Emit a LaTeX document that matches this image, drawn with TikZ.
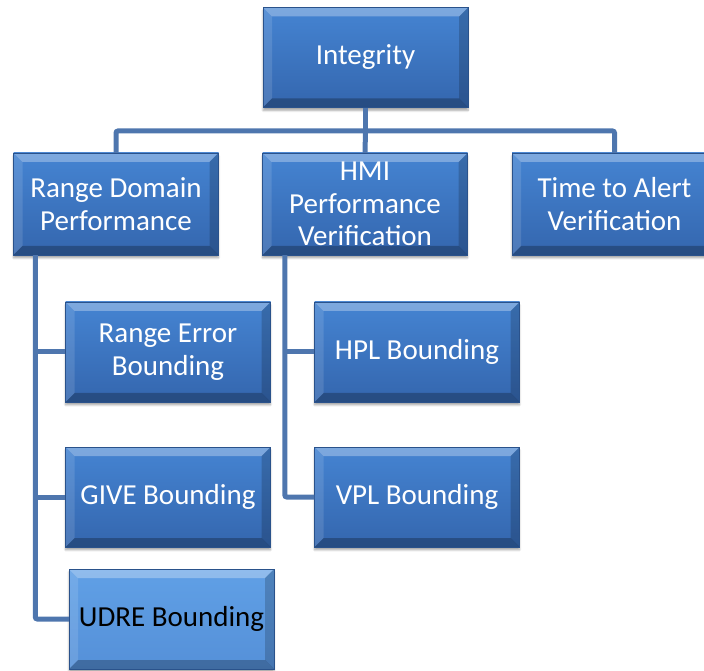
\documentclass[tikz,border=0pt]{standalone}
\usepackage{fontspec}
\setmainfont{Carlito}
\usetikzlibrary{shadows.blur}

\definecolor{boxtop}{HTML}{4584D2}
\definecolor{boxbot}{HTML}{3466AE}
\definecolor{seltop}{HTML}{60A0E6}
\definecolor{selbot}{HTML}{5590D8}
\definecolor{wire}{HTML}{4E76AE}

\tikzset{
  blockbox/.style={minimum width=205pt, minimum height=100pt, align=center,
    text=white, font=\fontsize{29}{32.5}\selectfont, inner sep=0pt,
    top color=boxtop, bottom color=boxbot, draw=boxbot!80!black, line width=0.4pt,
    blur shadow={shadow xshift=0pt, shadow yshift=-3pt, shadow blur steps=6, shadow opacity=35},
    path picture={
      % bevelled rim
      \fill[white,opacity=.30] (path picture bounding box.north west) -- (path picture bounding box.north east)
        -- ([shift={(-9pt,-9pt)}]path picture bounding box.north east) -- ([shift={(9pt,-9pt)}]path picture bounding box.north west) -- cycle;
      \fill[white,opacity=.12] (path picture bounding box.north west) -- ([shift={(9pt,-9pt)}]path picture bounding box.north west)
        -- ([shift={(9pt,9pt)}]path picture bounding box.south west) -- (path picture bounding box.south west) -- cycle;
      \fill[black,opacity=.18] (path picture bounding box.north east) -- ([shift={(-9pt,-9pt)}]path picture bounding box.north east)
        -- ([shift={(-9pt,9pt)}]path picture bounding box.south east) -- (path picture bounding box.south east) -- cycle;
      \fill[black,opacity=.25] (path picture bounding box.south west) -- ([shift={(9pt,9pt)}]path picture bounding box.south west)
        -- ([shift={(-9pt,9pt)}]path picture bounding box.south east) -- (path picture bounding box.south east) -- cycle;
    }},
  selbox/.style={blockbox, top color=seltop, bottom color=selbot, text=black},
  wireline/.style={draw=wire, line width=5pt, rounded corners=2pt}
}

\begin{document}
\begin{tikzpicture}[x=1pt, y=1pt]
\useasboundingbox (0,0) rectangle (704,670);

\node[blockbox] (integ) at (365.5,612.5) {Integrity};
\node[blockbox, minimum height=102pt] (range) at (116,466) {Range Domain\\Performance};
\node[blockbox, minimum height=102pt] (hmi) at (365,466) {HMI\\Performance\\Verification};
\node[blockbox, minimum height=102pt] (time) at (614.5,466) {Time to Alert\\Verification};
\node[blockbox] (rerr) at (168,318) {Range Error\\Bounding};
\node[blockbox] (give) at (168,173) {GIVE Bounding};
\node[selbox] (udre) at (171.5,51) {UDRE Bounding};
\node[blockbox] (hpl) at (417,318) {HPL Bounding};
\node[blockbox] (vpl) at (417,173) {VPL Bounding};

\coordinate (hub) at (365.5,539);
\coordinate (rl) at ([xshift=22pt]range.south west);
\coordinate (rr) at ([xshift=22.5pt]hmi.south west);

% tree wiring
\draw[wireline] (integ.south) -- (hub);
\draw[wireline] (range.north) |- (hub) -| (time.north);
\draw[wireline] (hub) -- (hmi.north);
\draw[wireline] (rl) |- (udre.west);
\draw[wireline] (rl |- rerr.west) -- (rerr.west);
\draw[wireline] (rl |- give.west) -- (give.west);
\draw[wireline] (rr) |- (vpl.west);
\draw[wireline] (rr |- hpl.west) -- (hpl.west);
\end{tikzpicture}
\end{document}
